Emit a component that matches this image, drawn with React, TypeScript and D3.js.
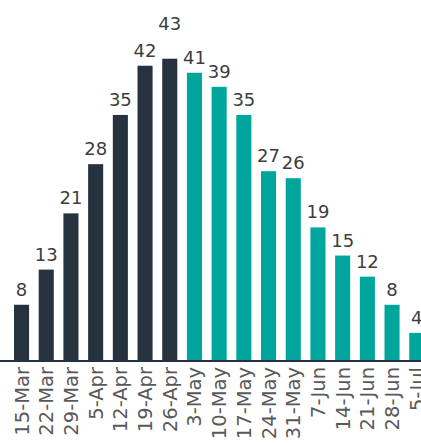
import * as d3 from "d3";

const weeks = [
  "15-Mar", "22-Mar", "29-Mar", "5-Apr", "12-Apr", "19-Apr", "26-Apr",
  "3-May", "10-May", "17-May", "24-May", "31-May", "7-Jun", "14-Jun",
  "21-Jun", "28-Jun", "5-Jul",
];
const counts = [8, 13, 21, 28, 35, 42, 43, 41, 39, 35, 27, 26, 19, 15, 12, 8, 4];
// first weeks drawn dark, the rest teal
const darkWeeks = 7;

const dark = "#26323e";
const teal = "#00a69c";

export default function App() {
  const width = 421;
  const height = 443;
  const baseline = 361;
  const font = "'DejaVu Sans', sans-serif";

  const x = d3
    .scaleBand<string>()
    .domain(weeks)
    .range([9.2, 9.2 + weeks.length * 24.7])
    .paddingInner(0.39)
    .paddingOuter(0.195);
  const y = d3.scaleLinear().domain([0, 50]).range([baseline, baseline - 351.5]);

  const peak = d3.maxIndex(counts);

  return (
    <svg
      width={width}
      height={height}
      style={{ position: "absolute", left: 0, top: 0, background: "#fff" }}
    >
      {weeks.map((w, i) => (
        <rect
          key={w}
          x={x(w)}
          y={y(counts[i])}
          width={x.bandwidth()}
          height={baseline - y(counts[i])}
          fill={i < darkWeeks ? dark : teal}
        />
      ))}
      <line x1={0} x2={width} y1={baseline} y2={baseline} stroke={dark} strokeWidth={2} />
      {weeks.map((w, i) => (
        <text
          key={`v-${w}`}
          x={(x(w) ?? 0) + x.bandwidth() / 2}
          y={y(counts[i]) - 9 - (i === peak ? 20 : 0)}
          textAnchor="middle"
          fontFamily={font}
          fontSize={18}
          fill="#3d3d3d"
        >
          {counts[i]}
        </text>
      ))}
      {weeks.map((w) => (
        <text
          key={`l-${w}`}
          transform={`translate(${(x(w) ?? 0) + x.bandwidth() / 2}, ${baseline + 6}) rotate(-90)`}
          dy="0.36em"
          textAnchor="end"
          fontFamily={font}
          fontSize={19.5}
          fill="#595959"
        >
          {w}
        </text>
      ))}
    </svg>
  );
}
